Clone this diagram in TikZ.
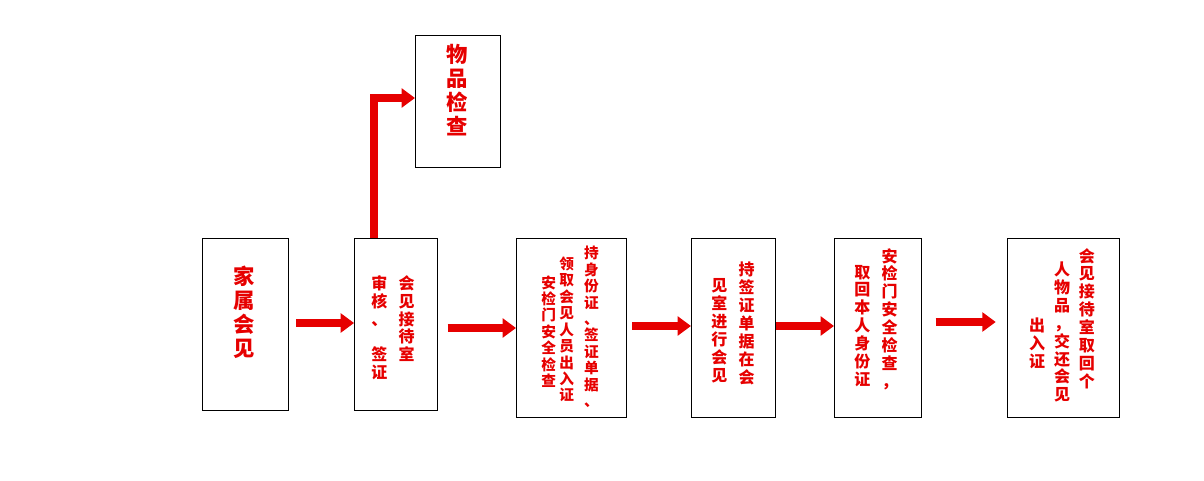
\documentclass[tikz,border=0pt]{standalone}
\usepackage{fontspec}
\setmainfont{Noto Sans CJK SC}
\usetikzlibrary{arrows.meta}
\definecolor{flowred}{RGB}{230,0,0}
\newcommand{\vcol}[1]{\parbox[t]{1.05em}{\centering\baselineskip=1.12em #1}}
\tikzset{
  stepbox/.style={draw, thick, rectangle, anchor=north west, inner sep=0pt},
  steptext/.style={text=flowred, font=\bfseries\fontsize{12}{13}\selectfont, inner sep=0pt},
  flowarrow/.style={flowred, line width=6pt, -{Triangle[width=14pt,length=10pt]}}
}
\begin{document}
\begin{tikzpicture}[x=0.75pt,y=-0.75pt]
  \useasboundingbox (0,0) rectangle (1204,481);
  % boxes
  \node[stepbox, minimum width=64.5pt, minimum height=129pt] (family) at (202,238) {};
  \node[stepbox, minimum width=62pt, minimum height=129pt] (review) at (354,238) {};
  \node[stepbox, minimum width=64pt, minimum height=99pt] (items) at (415,35) {};
  \node[stepbox, minimum width=82.5pt, minimum height=134pt] (pass) at (516,238) {};
  \node[stepbox, minimum width=63pt, minimum height=134pt] (meet) at (691,238) {};
  \node[stepbox, minimum width=65pt, minimum height=134pt] (check) at (834,238) {};
  \node[stepbox, minimum width=84pt, minimum height=134pt] (back) at (1007,238) {};
  % texts
  \node[steptext, font=\bfseries\fontsize{16}{17}\selectfont, anchor=north] at (244,266)
    {\vcol{家\\属\\会\\见}};
  \node[steptext, font=\bfseries\fontsize{16}{17}\selectfont, anchor=north] at (457,44)
    {\vcol{物\\品\\检\\查}};
  \node[steptext, anchor=north] at (393,275)
    {\vcol{审\\核\\、\\[1.12em]签\\证}\hspace{8pt}\vcol{会\\见\\接\\待\\室}};
  \node[steptext, font=\bfseries\fontsize{11}{12}\selectfont, anchor=north] at (570,246)
    {\raisebox{-22pt}{\vcol{安\\检\\门\\安\\全\\检\\查}}\hspace{2pt}\raisebox{-8pt}{\vcol{领\\取\\会\\见\\人\\员\\出\\入\\证}}\hspace{7pt}\vcol{持\\身\\份\\证\\、\\签\\证\\单\\据\\、}};
  \node[steptext, anchor=north] at (733,262)
    {\raisebox{-12pt}{\vcol{见\\室\\进\\行\\会\\见}}\hspace{8pt}\vcol{持\\签\\证\\单\\据\\在\\会}};
  \node[steptext, anchor=north] at (876,248)
    {\raisebox{-12pt}{\vcol{取\\回\\本\\人\\身\\份\\证}}\hspace{8pt}\vcol{安\\检\\门\\安\\全\\检\\查\\，}};
  \node[steptext, anchor=north] at (1062,248)
    {\raisebox{-52pt}{\vcol{出\\入\\证}}\hspace{6pt}\raisebox{-10pt}{\vcol{人\\物\\品\\，\\交\\还\\会\\见}}\hspace{6pt}\vcol{会\\见\\接\\待\\室\\取\\回\\个}};
  % arrows
  \draw[flowarrow] (family.east |- 0,323) ++(7,0) -- ++(58,0);
  \draw[flowarrow] (374,238) -- (374,98) -- (items.west |- 0,98);
  \draw[flowarrow] (review.east |- 0,328) ++(10,0) -- (pass.west |- 0,328);
  \draw[flowarrow] (pass.east |- 0,326) ++(5,0) -- (meet.west |- 0,326);
  \draw[flowarrow] (meet.east |- 0,326) -- (check.west |- 0,326);
  \draw[flowarrow] (check.east |- 0,322) ++(14,0) -- ++(60,0);
\end{tikzpicture}
\end{document}
